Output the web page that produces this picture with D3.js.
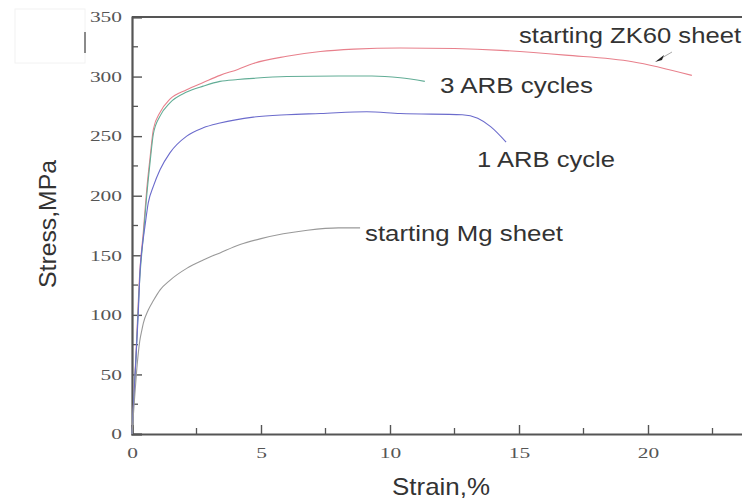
<!DOCTYPE html>
<html>
<head>
<meta charset="utf-8">
<script src="https://cdn.jsdelivr.net/npm/d3@7"></script>
<style>
  html, body { margin: 0; padding: 0; background: #fff; }
  svg { display: block; }
</style>
</head>
<body>
<svg id="chart" width="742" height="503"></svg>
<script>
// ---------- data ----------
const xTicks = [0, 5, 10, 15, 20];
const xMinorTicks = [2.5, 7.5, 12.5, 17.5, 22.5];
const yTicks = [0, 50, 100, 150, 200, 250, 300, 350];
const yMinorTicks = [25, 75, 125, 175, 225, 275, 325];

const seriesNames = ["starting ZK60 sheet", "3 ARB cycles", "1 ARB cycle", "starting Mg sheet"];

const zk60 = [[0,0],[0.15,65],[0.3,135],[0.44,170],[0.57,205],[0.7,232],[0.83,256],[1.09,270],[1.47,281],[2.12,289],[2.76,295],[3.41,301],[4.1,306],[4.7,311],[6.0,317],[7.3,321],[8.6,323],[10.4,324],[12.5,323.5],[14.3,322],[16.8,318],[19.4,312.5],[21.7,301]];
const arb3 = [[0,0],[0.15,62],[0.3,130],[0.44,166],[0.57,200],[0.7,228],[0.83,252],[1.09,267],[1.47,278],[2.12,287],[2.76,292],[3.41,296],[4.1,297.5],[4.7,298.5],[6.0,300],[8.0,300.5],[9.3,300.5],[10.4,299],[11.35,296]];
const arb1 = [[0,0],[0.12,50],[0.24,100],[0.32,140],[0.38,154],[0.5,174],[0.63,194],[0.83,208],[1.09,222],[1.47,236],[2.12,250],[2.76,257],[3.41,261],[4.7,266],[6.0,268],[7.3,269],[9.1,270.5],[10.4,269],[12.8,268],[13.4,265],[13.9,258],[14.5,245]];
const mg = [[0,0],[0.1,30],[0.2,58],[0.3,78],[0.38,87],[0.44,93],[0.63,104],[0.83,112],[1.09,121],[1.47,129],[2.12,139],[2.76,146],[3.41,152],[4.19,159],[5.0,164],[6.8,171],[8.0,173],[8.84,173]];

const seriesData = [zk60, arb3, arb1, mg];
const seriesColors = ["#e8808c", "#62ad96", "#6b6bcc", "#999999"];

// ---------- layout ----------
const svg = d3.select("#chart");
const x = d3.scaleLinear().domain([0, 25]).range([132, 132 + 25 * 25.8]);
const y = d3.scaleLinear().domain([0, 350]).range([434, 17]);

const axisColor = "#555";

// faint artifact in the top-left corner
svg.append("rect").attr("x", 15).attr("y", 9).attr("width", 70).attr("height", 54)
  .attr("fill", "none").attr("stroke", "#f2f2f2").attr("stroke-width", 1);
svg.append("line").attr("x1", 85).attr("x2", 85).attr("y1", 32).attr("y2", 53)
  .attr("stroke", "#666").attr("stroke-width", 1.5);

// top frame line
svg.append("line").attr("x1", x(0)).attr("x2", 742).attr("y1", y(350)).attr("y2", y(350))
  .attr("stroke", axisColor).attr("stroke-width", 2);

// x axis
const gx = svg.append("g").attr("transform", `translate(0,${y(0)})`)
  .call(d3.axisBottom(x).tickValues(xTicks).tickSize(-9).tickPadding(13).tickFormat(d3.format("d")));
gx.append("g").selectAll("line").data(xMinorTicks).join("line")
  .attr("x1", d => x(d)).attr("x2", d => x(d)).attr("y1", 0).attr("y2", -6)
  .attr("stroke", axisColor).attr("stroke-width", 1.3);

// y axis
const gy = svg.append("g").attr("transform", `translate(${x(0)},0)`)
  .call(d3.axisLeft(y).tickValues(yTicks).tickSize(-10).tickPadding(10).tickFormat(d3.format("d")));
gy.append("g").selectAll("line").data(yMinorTicks).join("line")
  .attr("x1", 0).attr("x2", 6).attr("y1", d => y(d)).attr("y2", d => y(d))
  .attr("stroke", axisColor).attr("stroke-width", 1.3);

[gx, gy].forEach(g => {
  g.select(".domain").attr("stroke", axisColor).attr("stroke-width", 2.2);
  g.selectAll(".tick line").attr("stroke", axisColor).attr("stroke-width", 1.4);
  g.selectAll(".tick text")
    .attr("font-family", "'Liberation Serif', 'Times New Roman', serif")
    .attr("font-size", 15)
    .attr("fill", "#555")
    .attr("lengthAdjust", "spacingAndGlyphs")
    .attr("textLength", function() { return this.textContent.length * 10.7; });
});

// curves
const line = d3.line().x(d => x(d[0])).y(d => y(d[1])).curve(d3.curveMonotoneX);
svg.append("g").selectAll("path").data(seriesData).join("path")
  .attr("d", line)
  .attr("fill", "none")
  .attr("stroke", (d, i) => seriesColors[i])
  .attr("stroke-width", 1.1);

// axis titles
svg.append("text").attr("x", 441).attr("y", 495).attr("text-anchor", "middle")
  .attr("font-family", "'Liberation Sans', Arial, sans-serif").attr("font-size", 24)
  .attr("fill", "#333").attr("textLength", 98).attr("lengthAdjust", "spacingAndGlyphs")
  .text("Strain,%");
svg.append("text").attr("transform", "translate(56,224) rotate(-90)").attr("text-anchor", "middle")
  .attr("font-family", "'Liberation Sans', Arial, sans-serif").attr("font-size", 24)
  .attr("fill", "#333").attr("textLength", 128).attr("lengthAdjust", "spacingAndGlyphs")
  .text("Stress,MPa");

// annotation labels
const labelX = [519, 440, 477, 365];
const labelY = [43, 93, 167, 241];
const labelW = [222, 153, 138, 198];
svg.append("g").selectAll("text").data(seriesNames).join("text")
  .attr("x", (d, i) => labelX[i]).attr("y", (d, i) => labelY[i])
  .attr("font-family", "'Liberation Sans', Arial, sans-serif").attr("font-size", 22)
  .attr("fill", "#333")
  .attr("lengthAdjust", "spacingAndGlyphs").attr("textLength", (d, i) => labelW[i])
  .text(d => d);

// arrow for ZK60 label
svg.append("line").attr("x1", 672).attr("y1", 52).attr("x2", 660).attr("y2", 59)
  .attr("stroke", "#aaa").attr("stroke-width", 1);
svg.append("path").attr("d", "M655,62 L664,55 L662,60 Z").attr("fill", "#222");
</script>
</body>
</html>
